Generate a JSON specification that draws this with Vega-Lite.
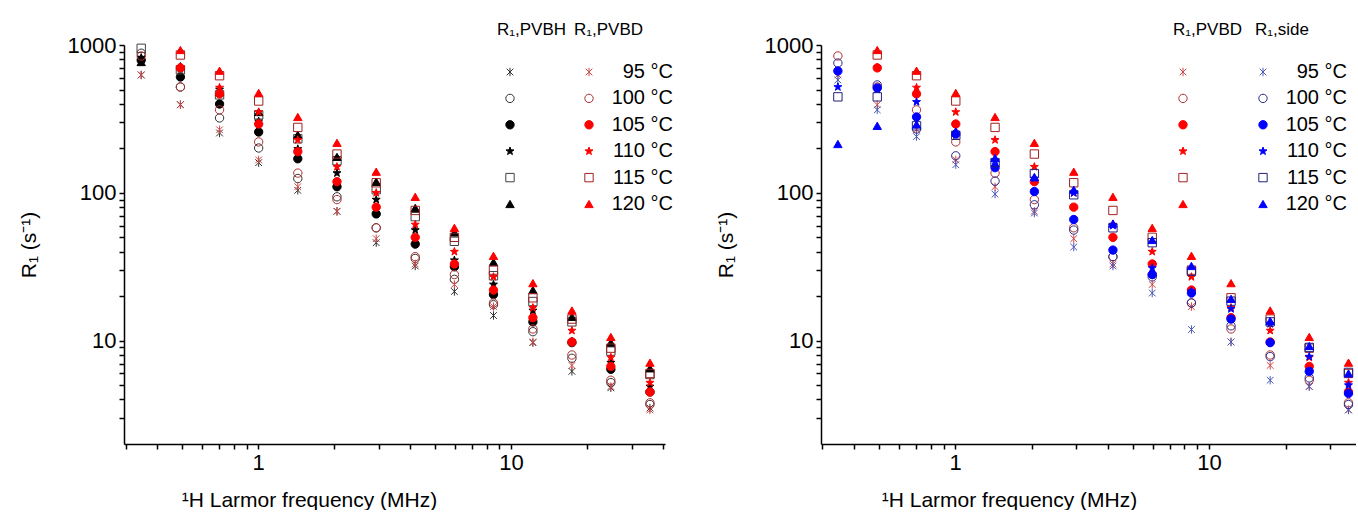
{
  "$schema": "https://vega.github.io/schema/vega-lite/v6.json",
  "padding": {"left": 18, "top": 22, "right": 0, "bottom": 0},
  "background": "white",
  "datasets": {
    "d": [
      {"s":"PVBH","T":"95","f":0.345,"R":627},{"s":"PVBH","T":"95","f":0.493,"R":395},{"s":"PVBH","T":"95","f":0.704,"R":254},{"s":"PVBH","T":"95","f":1.005,"R":160},{"s":"PVBH","T":"95","f":1.435,"R":104},{"s":"PVBH","T":"95","f":2.05,"R":75},{"s":"PVBH","T":"95","f":2.93,"R":46},{"s":"PVBH","T":"95","f":4.18,"R":32},{"s":"PVBH","T":"95","f":5.97,"R":21.5},{"s":"PVBH","T":"95","f":8.52,"R":14.8},{"s":"PVBH","T":"95","f":12.2,"R":9.7},{"s":"PVBH","T":"95","f":17.4,"R":6.2},{"s":"PVBH","T":"95","f":24.8,"R":4.8},{"s":"PVBH","T":"95","f":35.4,"R":3.5},
      {"s":"PVBH","T":"100","f":0.345,"R":880},{"s":"PVBH","T":"100","f":0.493,"R":520},{"s":"PVBH","T":"100","f":0.704,"R":321},{"s":"PVBH","T":"100","f":1.005,"R":201},{"s":"PVBH","T":"100","f":1.435,"R":125},{"s":"PVBH","T":"100","f":2.05,"R":94},{"s":"PVBH","T":"100","f":2.93,"R":58},{"s":"PVBH","T":"100","f":4.18,"R":36},{"s":"PVBH","T":"100","f":5.97,"R":26},{"s":"PVBH","T":"100","f":8.52,"R":17.5},{"s":"PVBH","T":"100","f":12.2,"R":11.5},{"s":"PVBH","T":"100","f":17.4,"R":7.6},{"s":"PVBH","T":"100","f":24.8,"R":5.2},{"s":"PVBH","T":"100","f":35.4,"R":3.7},
      {"s":"PVBH","T":"105","f":0.345,"R":790},{"s":"PVBH","T":"105","f":0.493,"R":608},{"s":"PVBH","T":"105","f":0.704,"R":399},{"s":"PVBH","T":"105","f":1.005,"R":258},{"s":"PVBH","T":"105","f":1.435,"R":170},{"s":"PVBH","T":"105","f":2.05,"R":110},{"s":"PVBH","T":"105","f":2.93,"R":72},{"s":"PVBH","T":"105","f":4.18,"R":45},{"s":"PVBH","T":"105","f":5.97,"R":31.6},{"s":"PVBH","T":"105","f":8.52,"R":20.5},{"s":"PVBH","T":"105","f":12.2,"R":13.4},{"s":"PVBH","T":"105","f":17.4,"R":9.7},{"s":"PVBH","T":"105","f":24.8,"R":6.4},{"s":"PVBH","T":"105","f":35.4,"R":4.5},
      {"s":"PVBH","T":"110","f":0.345,"R":820},{"s":"PVBH","T":"110","f":0.493,"R":690},{"s":"PVBH","T":"110","f":0.704,"R":500},{"s":"PVBH","T":"110","f":1.005,"R":305},{"s":"PVBH","T":"110","f":1.435,"R":198},{"s":"PVBH","T":"110","f":2.05,"R":136},{"s":"PVBH","T":"110","f":2.93,"R":90},{"s":"PVBH","T":"110","f":4.18,"R":56},{"s":"PVBH","T":"110","f":5.97,"R":35},{"s":"PVBH","T":"110","f":8.52,"R":24},{"s":"PVBH","T":"110","f":12.2,"R":16},{"s":"PVBH","T":"110","f":17.4,"R":9.9},{"s":"PVBH","T":"110","f":24.8,"R":7.1},{"s":"PVBH","T":"110","f":35.4,"R":4.9},
      {"s":"PVBH","T":"115","f":0.345,"R":950},{"s":"PVBH","T":"115","f":0.493,"R":680},{"s":"PVBH","T":"115","f":0.704,"R":460},{"s":"PVBH","T":"115","f":1.005,"R":337},{"s":"PVBH","T":"115","f":1.435,"R":232},{"s":"PVBH","T":"115","f":2.05,"R":165},{"s":"PVBH","T":"115","f":2.93,"R":105},{"s":"PVBH","T":"115","f":4.18,"R":69},{"s":"PVBH","T":"115","f":5.97,"R":47},{"s":"PVBH","T":"115","f":8.52,"R":27.5},{"s":"PVBH","T":"115","f":12.2,"R":18.4},{"s":"PVBH","T":"115","f":17.4,"R":13.4},{"s":"PVBH","T":"115","f":24.8,"R":8.5},{"s":"PVBH","T":"115","f":35.4,"R":5.9},
      {"s":"PVBH","T":"120","f":0.345,"R":767},{"s":"PVBH","T":"120","f":0.493,"R":720},{"s":"PVBH","T":"120","f":0.704,"R":481},{"s":"PVBH","T":"120","f":1.005,"R":352},{"s":"PVBH","T":"120","f":1.435,"R":247},{"s":"PVBH","T":"120","f":2.05,"R":175},{"s":"PVBH","T":"120","f":2.93,"R":119},{"s":"PVBH","T":"120","f":4.18,"R":79},{"s":"PVBH","T":"120","f":5.97,"R":54},{"s":"PVBH","T":"120","f":8.52,"R":34},{"s":"PVBH","T":"120","f":12.2,"R":22},{"s":"PVBH","T":"120","f":17.4,"R":14.5},{"s":"PVBH","T":"120","f":24.8,"R":9.7},{"s":"PVBH","T":"120","f":35.4,"R":6.5},

      {"s":"PVBD","T":"95","f":0.345,"R":627},{"s":"PVBD","T":"95","f":0.493,"R":394},{"s":"PVBD","T":"95","f":0.704,"R":267},{"s":"PVBD","T":"95","f":1.005,"R":167},{"s":"PVBD","T":"95","f":1.435,"R":110},{"s":"PVBD","T":"95","f":2.05,"R":75},{"s":"PVBD","T":"95","f":2.93,"R":49},{"s":"PVBD","T":"95","f":4.18,"R":33},{"s":"PVBD","T":"95","f":5.97,"R":24},{"s":"PVBD","T":"95","f":8.52,"R":17},{"s":"PVBD","T":"95","f":12.2,"R":9.8},{"s":"PVBD","T":"95","f":17.4,"R":6.8},{"s":"PVBD","T":"95","f":24.8,"R":4.9},{"s":"PVBD","T":"95","f":35.4,"R":3.4},
      {"s":"PVBD","T":"100","f":0.345,"R":843},{"s":"PVBD","T":"100","f":0.493,"R":520},{"s":"PVBD","T":"100","f":0.704,"R":364},{"s":"PVBD","T":"100","f":1.005,"R":221},{"s":"PVBD","T":"100","f":1.435,"R":136},{"s":"PVBD","T":"100","f":2.05,"R":90},{"s":"PVBD","T":"100","f":2.93,"R":58},{"s":"PVBD","T":"100","f":4.18,"R":37},{"s":"PVBD","T":"100","f":5.97,"R":28},{"s":"PVBD","T":"100","f":8.52,"R":18},{"s":"PVBD","T":"100","f":12.2,"R":12},{"s":"PVBD","T":"100","f":17.4,"R":8.0},{"s":"PVBD","T":"100","f":24.8,"R":5.4},{"s":"PVBD","T":"100","f":35.4,"R":3.8},
      {"s":"PVBD","T":"105","f":0.493,"R":700},{"s":"PVBD","T":"105","f":0.704,"R":467},{"s":"PVBD","T":"105","f":1.005,"R":292},{"s":"PVBD","T":"105","f":1.435,"R":190},{"s":"PVBD","T":"105","f":2.05,"R":119},{"s":"PVBD","T":"105","f":2.93,"R":80},{"s":"PVBD","T":"105","f":4.18,"R":50},{"s":"PVBD","T":"105","f":5.97,"R":33},{"s":"PVBD","T":"105","f":8.52,"R":22},{"s":"PVBD","T":"105","f":12.2,"R":14.3},{"s":"PVBD","T":"105","f":17.4,"R":9.8},{"s":"PVBD","T":"105","f":24.8,"R":6.7},{"s":"PVBD","T":"105","f":35.4,"R":4.5},
      {"s":"PVBD","T":"110","f":0.493,"R":705},{"s":"PVBD","T":"110","f":0.704,"R":515},{"s":"PVBD","T":"110","f":1.005,"R":352},{"s":"PVBD","T":"110","f":1.435,"R":228},{"s":"PVBD","T":"110","f":2.05,"R":150},{"s":"PVBD","T":"110","f":2.93,"R":100},{"s":"PVBD","T":"110","f":4.18,"R":61},{"s":"PVBD","T":"110","f":5.97,"R":40},{"s":"PVBD","T":"110","f":8.52,"R":27},{"s":"PVBD","T":"110","f":12.2,"R":16.7},{"s":"PVBD","T":"110","f":17.4,"R":11.7},{"s":"PVBD","T":"110","f":24.8,"R":7.7},{"s":"PVBD","T":"110","f":35.4,"R":5.2},
      {"s":"PVBD","T":"115","f":0.493,"R":856},{"s":"PVBD","T":"115","f":0.704,"R":620},{"s":"PVBD","T":"115","f":1.005,"R":418},{"s":"PVBD","T":"115","f":1.435,"R":277},{"s":"PVBD","T":"115","f":2.05,"R":183},{"s":"PVBD","T":"115","f":2.93,"R":117},{"s":"PVBD","T":"115","f":4.18,"R":76},{"s":"PVBD","T":"115","f":5.97,"R":50},{"s":"PVBD","T":"115","f":8.52,"R":30},{"s":"PVBD","T":"115","f":12.2,"R":19.5},{"s":"PVBD","T":"115","f":17.4,"R":14},{"s":"PVBD","T":"115","f":24.8,"R":8.9},{"s":"PVBD","T":"115","f":35.4,"R":6.0},
      {"s":"PVBD","T":"120","f":0.493,"R":925},{"s":"PVBD","T":"120","f":0.704,"R":670},{"s":"PVBD","T":"120","f":1.005,"R":474},{"s":"PVBD","T":"120","f":1.435,"R":326},{"s":"PVBD","T":"120","f":2.05,"R":218},{"s":"PVBD","T":"120","f":2.93,"R":139},{"s":"PVBD","T":"120","f":4.18,"R":94},{"s":"PVBD","T":"120","f":5.97,"R":58},{"s":"PVBD","T":"120","f":8.52,"R":37.5},{"s":"PVBD","T":"120","f":12.2,"R":24.5},{"s":"PVBD","T":"120","f":17.4,"R":16},{"s":"PVBD","T":"120","f":24.8,"R":10.6},{"s":"PVBD","T":"120","f":35.4,"R":7.1},

      {"s":"side","T":"95","f":0.345,"R":580},{"s":"side","T":"95","f":0.493,"R":364},{"s":"side","T":"95","f":0.704,"R":240},{"s":"side","T":"95","f":1.005,"R":155},{"s":"side","T":"95","f":1.435,"R":98},{"s":"side","T":"95","f":2.05,"R":73},{"s":"side","T":"95","f":2.93,"R":43},{"s":"side","T":"95","f":4.18,"R":32},{"s":"side","T":"95","f":5.97,"R":21},{"s":"side","T":"95","f":8.52,"R":11.9},{"s":"side","T":"95","f":12.2,"R":9.8},{"s":"side","T":"95","f":17.4,"R":5.4},{"s":"side","T":"95","f":24.8,"R":4.9},{"s":"side","T":"95","f":35.4,"R":3.4},
      {"s":"side","T":"100","f":0.345,"R":755},{"s":"side","T":"100","f":0.493,"R":537},{"s":"side","T":"100","f":0.704,"R":270},{"s":"side","T":"100","f":1.005,"R":178},{"s":"side","T":"100","f":1.435,"R":120},{"s":"side","T":"100","f":2.05,"R":83},{"s":"side","T":"100","f":2.93,"R":56},{"s":"side","T":"100","f":4.18,"R":37},{"s":"side","T":"100","f":5.97,"R":27},{"s":"side","T":"100","f":8.52,"R":18},{"s":"side","T":"100","f":12.2,"R":12.6},{"s":"side","T":"100","f":17.4,"R":7.8},{"s":"side","T":"100","f":24.8,"R":5.6},{"s":"side","T":"100","f":35.4,"R":3.7},
      {"s":"side","T":"105","f":0.345,"R":667},{"s":"side","T":"105","f":0.493,"R":512},{"s":"side","T":"105","f":0.704,"R":326},{"s":"side","T":"105","f":1.005,"R":250},{"s":"side","T":"105","f":1.435,"R":148},{"s":"side","T":"105","f":2.05,"R":102},{"s":"side","T":"105","f":2.93,"R":66},{"s":"side","T":"105","f":4.18,"R":41},{"s":"side","T":"105","f":5.97,"R":28},{"s":"side","T":"105","f":8.52,"R":21},{"s":"side","T":"105","f":12.2,"R":14},{"s":"side","T":"105","f":17.4,"R":9.7},{"s":"side","T":"105","f":24.8,"R":6.2},{"s":"side","T":"105","f":35.4,"R":4.4},
      {"s":"side","T":"110","f":0.345,"R":520},{"s":"side","T":"110","f":0.493,"R":500},{"s":"side","T":"110","f":0.704,"R":412},{"s":"side","T":"110","f":1.005,"R":254},{"s":"side","T":"110","f":1.435,"R":165},{"s":"side","T":"110","f":2.05,"R":125},{"s":"side","T":"110","f":2.93,"R":100},{"s":"side","T":"110","f":4.18,"R":60},{"s":"side","T":"110","f":5.97,"R":31},{"s":"side","T":"110","f":8.52,"R":21.5},{"s":"side","T":"110","f":12.2,"R":16.4},{"s":"side","T":"110","f":17.4,"R":13},{"s":"side","T":"110","f":24.8,"R":7.8},{"s":"side","T":"110","f":35.4,"R":5.0},
      {"s":"side","T":"115","f":0.345,"R":446},{"s":"side","T":"115","f":0.493,"R":446},{"s":"side","T":"115","f":0.704,"R":284},{"s":"side","T":"115","f":1.005,"R":245},{"s":"side","T":"115","f":1.435,"R":160},{"s":"side","T":"115","f":2.05,"R":135},{"s":"side","T":"115","f":2.93,"R":97},{"s":"side","T":"115","f":4.18,"R":58},{"s":"side","T":"115","f":5.97,"R":46},{"s":"side","T":"115","f":8.52,"R":29.5},{"s":"side","T":"115","f":12.2,"R":18.5},{"s":"side","T":"115","f":17.4,"R":13.4},{"s":"side","T":"115","f":24.8,"R":9.0},{"s":"side","T":"115","f":35.4,"R":6.1},
      {"s":"side","T":"120","f":0.345,"R":214},{"s":"side","T":"120","f":0.493,"R":284},{"s":"side","T":"120","f":0.704,"R":290},{"s":"side","T":"120","f":1.005,"R":260},{"s":"side","T":"120","f":1.435,"R":172},{"s":"side","T":"120","f":2.05,"R":128},{"s":"side","T":"120","f":2.93,"R":105},{"s":"side","T":"120","f":4.18,"R":62},{"s":"side","T":"120","f":5.97,"R":48},{"s":"side","T":"120","f":8.52,"R":32},{"s":"side","T":"120","f":12.2,"R":19.2},{"s":"side","T":"120","f":17.4,"R":13.6},{"s":"side","T":"120","f":24.8,"R":9.2},{"s":"side","T":"120","f":35.4,"R":6.0}
    ]
  },
  "data": {"name": "d"},
  "spacing": 42,
  "resolve": {"scale": {"x": "independent", "y": "independent", "shape": "independent", "fill": "independent", "stroke": "independent"}},
  "hconcat": [
    {
      "width": 541,
      "height": 399,
      "encoding": {
        "x": {"field": "f", "type": "quantitative", "scale": {"type": "log", "domain": [0.295, 40.6], "nice": false},
              "axis": {"title": "¹H Larmor frequency (MHz)", "values": [0.3,0.4,0.5,0.6,0.7,0.8,0.9,1,2,3,4,5,6,7,8,9,10,20,30,40], "labelExpr": "datum.value == 1 || datum.value == 10 ? '' + datum.value : ''", "titlePadding": 16, "titleX": 185}},
        "y": {"field": "R", "type": "quantitative", "scale": {"type": "log", "domain": [2, 1000], "nice": false},
              "axis": {"title": "R₁ (s⁻¹)", "values": [3,4,5,6,7,8,9,10,20,30,40,50,60,70,80,90,100,200,300,400,500,600,700,800,900,1000], "labelExpr": "datum.value == 10 || datum.value == 100 || datum.value == 1000 ? '' + datum.value : ''", "titlePadding": 28}}
      },
      "layer": [
        {
          "transform": [{"filter": "datum.s == 'PVBH'"}],
          "mark": {"type": "point", "size": 70, "strokeWidth": 1, "opacity": 1, "clip": false},
          "encoding": {
            "shape": {"field": "T", "type": "nominal", "scale": {"domain": ["95","100","105","110","115","120"], "range": ["M-0.8,-0.8L0.8,0.8M-0.8,0.8L0.8,-0.8M0,-1L0,1", "circle", "circle", "M0,-1L0.235,-0.324L0.951,-0.309L0.38,0.124L0.588,0.809L0,0.4L-0.588,0.809L-0.38,0.124L-0.951,-0.309L-0.235,-0.324Z", "square", "triangle-up"]},
                      "legend": {"title": "R₁,PVBH", "orient": "none", "legendX": 373, "legendY": -23, "symbolOffset": 3, "labelColor": "transparent"}},
            "fill": {"field": "T", "type": "nominal", "scale": {"domain": ["95","100","105","110","115","120"], "range": ["transparent","transparent","#000000","#000000","transparent","#000000"]},
                     "legend": {"title": "R₁,PVBH", "orient": "none", "legendX": 373, "legendY": -23, "symbolOffset": 3, "labelColor": "transparent"}},
            "stroke": {"field": "T", "type": "nominal", "scale": {"domain": ["95","100","105","110","115","120"], "range": ["#303030","#303030","#000000","#000000","#404040","#000000"]},
                       "legend": {"title": "R₁,PVBH", "orient": "none", "legendX": 373, "legendY": -23, "symbolOffset": 3, "labelColor": "transparent"}}
          }
        },
        {
          "transform": [{"filter": "datum.s == 'PVBD'"}],
          "mark": {"type": "point", "size": 70, "strokeWidth": 1, "opacity": 1, "clip": false},
          "encoding": {
            "shape": {"field": "T", "type": "nominal", "scale": {"domain": ["95","100","105","110","115","120"], "range": ["M-0.8,-0.8L0.8,0.8M-0.8,0.8L0.8,-0.8M0,-1L0,1", "circle", "circle", "M0,-1L0.235,-0.324L0.951,-0.309L0.38,0.124L0.588,0.809L0,0.4L-0.588,0.809L-0.38,0.124L-0.951,-0.309L-0.235,-0.324Z", "square", "triangle-up"]},
                      "legend": {"title": "R₁,PVBD", "orient": "none", "legendX": 450, "legendY": -23, "symbolOffset": 5, "labelExpr": "datum.label + ' °C'", "labelAlign": "right", "labelOffset": 74}},
            "fill": {"field": "T", "type": "nominal", "scale": {"domain": ["95","100","105","110","115","120"], "range": ["transparent","transparent","#ff0000","#ff0000","transparent","#ff0000"]},
                     "legend": {"title": "R₁,PVBD", "orient": "none", "legendX": 450, "legendY": -23, "symbolOffset": 5, "labelExpr": "datum.label + ' °C'", "labelAlign": "right", "labelOffset": 74}},
            "stroke": {"field": "T", "type": "nominal", "scale": {"domain": ["95","100","105","110","115","120"], "range": ["#d04848","#b03030","#ff0000","#ff0000","#a02020","#ff0000"]},
                       "legend": {"title": "R₁,PVBD", "orient": "none", "legendX": 450, "legendY": -23, "symbolOffset": 5, "labelExpr": "datum.label + ' °C'", "labelAlign": "right", "labelOffset": 74}}
          }
        }
      ],
      "resolve": {"scale": {"shape": "independent", "fill": "independent", "stroke": "independent"}}
    },
    {
      "width": 535,
      "height": 399,
      "encoding": {
        "x": {"field": "f", "type": "quantitative", "scale": {"type": "log", "domain": [0.296, 37.9], "nice": false},
              "axis": {"title": "¹H Larmor frequency (MHz)", "values": [0.3,0.4,0.5,0.6,0.7,0.8,0.9,1,2,3,4,5,6,7,8,9,10,20,30], "labelExpr": "datum.value == 1 || datum.value == 10 ? '' + datum.value : ''", "titlePadding": 16, "titleX": 188}},
        "y": {"field": "R", "type": "quantitative", "scale": {"type": "log", "domain": [2, 1000], "nice": false},
              "axis": {"title": "R₁ (s⁻¹)", "values": [3,4,5,6,7,8,9,10,20,30,40,50,60,70,80,90,100,200,300,400,500,600,700,800,900,1000], "labelExpr": "datum.value == 10 || datum.value == 100 || datum.value == 1000 ? '' + datum.value : ''", "titlePadding": 28}}
      },
      "layer": [
        {
          "transform": [{"filter": "datum.s == 'PVBD'"}],
          "mark": {"type": "point", "size": 70, "strokeWidth": 1, "opacity": 1, "clip": false},
          "encoding": {
            "shape": {"field": "T", "type": "nominal", "scale": {"domain": ["95","100","105","110","115","120"], "range": ["M-0.8,-0.8L0.8,0.8M-0.8,0.8L0.8,-0.8M0,-1L0,1", "circle", "circle", "M0,-1L0.235,-0.324L0.951,-0.309L0.38,0.124L0.588,0.809L0,0.4L-0.588,0.809L-0.38,0.124L-0.951,-0.309L-0.235,-0.324Z", "square", "triangle-up"]},
                      "legend": {"title": "R₁,PVBD", "orient": "none", "legendX": 352, "legendY": -23, "symbolOffset": 0, "labelColor": "transparent"}},
            "fill": {"field": "T", "type": "nominal", "scale": {"domain": ["95","100","105","110","115","120"], "range": ["transparent","transparent","#ff0000","#ff0000","transparent","#ff0000"]},
                     "legend": {"title": "R₁,PVBD", "orient": "none", "legendX": 352, "legendY": -23, "symbolOffset": 0, "labelColor": "transparent"}},
            "stroke": {"field": "T", "type": "nominal", "scale": {"domain": ["95","100","105","110","115","120"], "range": ["#d04848","#b03030","#ff0000","#ff0000","#a02020","#ff0000"]},
                       "legend": {"title": "R₁,PVBD", "orient": "none", "legendX": 352, "legendY": -23, "symbolOffset": 0, "labelColor": "transparent"}}
          }
        },
        {
          "transform": [{"filter": "datum.s == 'side'"}],
          "mark": {"type": "point", "size": 70, "strokeWidth": 1, "opacity": 1, "clip": false},
          "encoding": {
            "shape": {"field": "T", "type": "nominal", "scale": {"domain": ["95","100","105","110","115","120"], "range": ["M-0.8,-0.8L0.8,0.8M-0.8,0.8L0.8,-0.8M0,-1L0,1", "circle", "circle", "M0,-1L0.235,-0.324L0.951,-0.309L0.38,0.124L0.588,0.809L0,0.4L-0.588,0.809L-0.38,0.124L-0.951,-0.309L-0.235,-0.324Z", "square", "triangle-up"]},
                      "legend": {"title": "R₁,side", "orient": "none", "legendX": 434, "legendY": -23, "symbolOffset": -2, "labelExpr": "datum.label + ' °C'", "labelAlign": "right", "labelOffset": 74}},
            "fill": {"field": "T", "type": "nominal", "scale": {"domain": ["95","100","105","110","115","120"], "range": ["transparent","transparent","#0000ff","#0000ff","transparent","#0000ff"]},
                     "legend": {"title": "R₁,side", "orient": "none", "legendX": 434, "legendY": -23, "symbolOffset": -2, "labelExpr": "datum.label + ' °C'", "labelAlign": "right", "labelOffset": 74}},
            "stroke": {"field": "T", "type": "nominal", "scale": {"domain": ["95","100","105","110","115","120"], "range": ["#4a5ab8","#2a2a90","#0000ff","#0000ff","#22227a","#0000ff"]},
                       "legend": {"title": "R₁,side", "orient": "none", "legendX": 434, "legendY": -23, "symbolOffset": -2, "labelExpr": "datum.label + ' °C'", "labelAlign": "right", "labelOffset": 74}}
          }
        }
      ],
      "resolve": {"scale": {"shape": "independent", "fill": "independent", "stroke": "independent"}}
    }
  ],
  "config": {
    "view": {"stroke": null},
    "font": "Liberation Sans",
    "axis": {"grid": false, "domainColor": "#000", "domainWidth": 1.5, "tickColor": "#000", "tickWidth": 1.5, "tickSize": 5,
             "labelFont": "Liberation Sans", "labelFontSize": 22, "labelColor": "#000", "labelPadding": 3, "labelOverlap": false, "labelFlush": false,
             "titleFont": "Liberation Sans", "titleFontSize": 21, "titleFontWeight": "normal", "titleColor": "#000"},
    "legend": {"padding": 0, "titleFont": "Liberation Sans", "labelFont": "Liberation Sans", "titleFontWeight": "normal", "titleColor": "#000",
               "labelColor": "#000", "titleFontSize": 17, "labelFontSize": 20, "rowPadding": 6.4, "symbolSize": 70, "symbolStrokeWidth": 1,
               "titlePadding": 23, "titleAnchor": "start", "labelLimit": 200}
  }
}
